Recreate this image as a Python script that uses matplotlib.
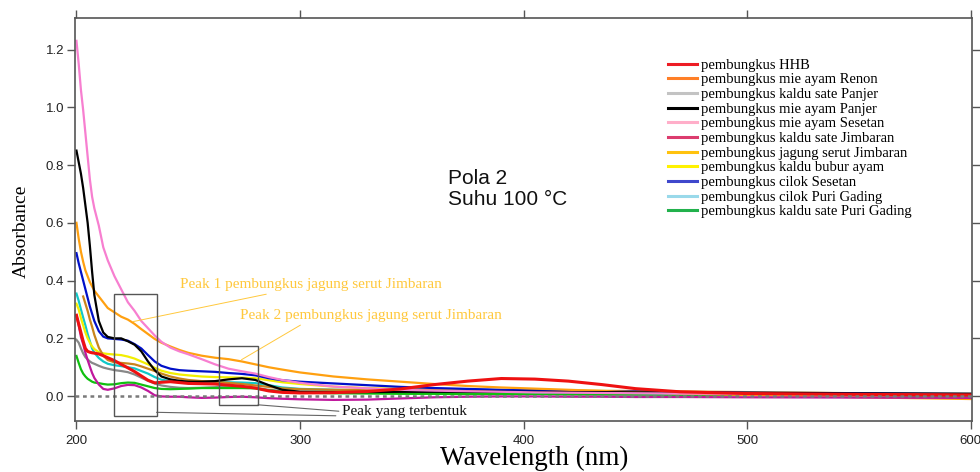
import matplotlib
matplotlib.use("Agg")
import matplotlib.pyplot as plt
import numpy as np
from matplotlib.lines import Line2D
from matplotlib.patches import Rectangle

nan = np.nan

# panjang gelombang (nm) tempat nilai absorbansi dibaca
wl = [200, 201, 202, 203, 204, 205, 206, 207, 208, 210, 212, 214, 217, 220, 223,
      226, 229, 232, 235, 238, 242, 246, 250, 256, 262, 268, 274, 280, 286, 292,
      300, 315, 330, 345, 360, 375, 390, 405, 420, 435, 450, 470, 500, 550, 600]

a_hhb = [0.28, 0.25, 0.22, 0.19, 0.165, 0.155, 0.152, 0.150, 0.149, 0.146, 0.140, 0.133, 0.123, 0.110, 0.098,
         0.085, 0.070, 0.055, 0.046, 0.048, 0.050, 0.047, 0.044, 0.043, 0.042, 0.038, 0.034, 0.028, 0.018, 0.013,
         0.011, 0.012, 0.016, 0.025, 0.040, 0.052, 0.061, 0.059, 0.052, 0.040, 0.026, 0.015, 0.009, 0.006, 0.004]
a_renon = [nan, nan, nan, 0.345, 0.32, 0.295, 0.265, 0.24, 0.212, 0.168, 0.140, 0.125, 0.117, 0.115, 0.113,
           0.110, 0.103, 0.095, 0.087, 0.078, 0.068, 0.061, 0.056, 0.052, 0.050, 0.046, 0.042, 0.037, 0.032, 0.027,
           0.024, 0.022, 0.021, 0.020, 0.020, 0.019, 0.019, 0.019, 0.018, 0.018, 0.018, 0.016, 0.014, 0.010, 0.006]
a_sate_panjer = [0.195, 0.185, 0.165, 0.148, 0.135, 0.127, 0.120, 0.115, 0.112, 0.105, 0.099, 0.095, 0.090, 0.087, 0.083,
                 0.075, 0.064, 0.053, 0.044, 0.037, 0.032, 0.029, 0.028, 0.029, 0.031, 0.033, 0.032, 0.028, 0.022, 0.018,
                 0.015, 0.013, 0.012, 0.011, 0.010, 0.009, 0.008, 0.008, 0.007, 0.006, 0.005, 0.005, 0.004, 0.002, 0.000]
a_mie_panjer = [0.85, 0.81, 0.77, 0.72, 0.66, 0.60, 0.52, 0.43, 0.35, 0.26, 0.22, 0.205, 0.200, 0.200, 0.190,
                0.178, 0.155, 0.120, 0.090, 0.068, 0.058, 0.053, 0.050, 0.050, 0.052, 0.058, 0.062, 0.056, 0.038, 0.022,
                0.015, 0.014, 0.014, 0.015, 0.015, 0.015, 0.015, 0.015, 0.014, 0.014, 0.013, 0.012, 0.011, 0.009, 0.008]
a_mie_sesetan = [1.23, 1.15, 1.06, 0.99, 0.91, 0.83, 0.75, 0.69, 0.65, 0.59, 0.515, 0.47, 0.415, 0.37, 0.325,
                 0.295, 0.26, 0.235, 0.21, 0.188, 0.168, 0.155, 0.145, 0.128, 0.110, 0.095, 0.086, 0.078, 0.066, 0.056,
                 0.046, 0.033, 0.027, 0.022, 0.019, 0.017, 0.015, 0.013, 0.012, 0.011, 0.010, 0.009, 0.008, 0.006, 0.004]
a_sate_jimbaran = [0.28, 0.245, 0.205, 0.18, 0.15, 0.125, 0.102, 0.080, 0.063, 0.040, 0.025, 0.022, 0.027, 0.035, 0.039,
                   0.038, 0.030, 0.018, 0.003, -0.001, -0.002, -0.002, -0.004, -0.006, -0.005, -0.003, -0.002, -0.004, -0.007, -0.009,
                   -0.011, -0.013, -0.012, -0.008, -0.004, -0.002, -0.001, -0.001, -0.002, -0.002, -0.003, -0.003, -0.004, -0.005, -0.006]
a_jagung = [0.60, 0.545, 0.50, 0.465, 0.435, 0.415, 0.395, 0.38, 0.365, 0.345, 0.325, 0.305, 0.29, 0.275, 0.265,
            0.25, 0.232, 0.215, 0.198, 0.185, 0.172, 0.160, 0.150, 0.140, 0.133, 0.128, 0.120, 0.110, 0.100, 0.092,
            0.082, 0.068, 0.058, 0.050, 0.042, 0.035, 0.030, 0.026, 0.022, 0.018, 0.014, 0.009, 0.004, -0.004, -0.010]
a_bubur = [0.32, 0.30, 0.27, 0.245, 0.22, 0.20, 0.185, 0.172, 0.163, 0.152, 0.148, 0.146, 0.144, 0.142, 0.137,
           0.130, 0.120, 0.110, 0.098, 0.088, 0.080, 0.075, 0.072, 0.068, 0.066, 0.065, 0.064, 0.062, 0.055, 0.048,
           0.042, 0.033, 0.028, 0.025, 0.023, 0.022, 0.021, 0.020, 0.019, 0.018, 0.017, 0.015, 0.012, 0.010, 0.008]
a_cilok_sesetan = [0.495, 0.46, 0.43, 0.40, 0.37, 0.34, 0.31, 0.285, 0.26, 0.225, 0.206, 0.200, 0.198, 0.196, 0.192,
                   0.180, 0.165, 0.142, 0.120, 0.105, 0.095, 0.090, 0.088, 0.086, 0.084, 0.080, 0.077, 0.072, 0.062, 0.055,
                   0.050, 0.044, 0.038, 0.032, 0.028, 0.025, 0.022, 0.020, 0.018, 0.017, 0.016, 0.014, 0.012, 0.010, 0.008]
a_cilok_puri = [0.355, 0.33, 0.30, 0.272, 0.245, 0.215, 0.19, 0.165, 0.150, 0.132, 0.120, 0.112, 0.107, 0.104, 0.100,
                0.096, 0.087, 0.078, 0.066, 0.057, 0.052, 0.050, 0.050, 0.050, 0.049, 0.048, 0.047, 0.045, 0.038, 0.030,
                0.025, 0.022, 0.020, 0.018, 0.017, 0.016, 0.015, 0.014, 0.013, 0.012, 0.011, 0.009, 0.008, 0.006, 0.004]
a_sate_puri = [0.139, 0.115, 0.093, 0.078, 0.068, 0.060, 0.055, 0.050, 0.047, 0.045, 0.042, 0.040, 0.041, 0.045, 0.047,
               0.046, 0.040, 0.034, 0.028, 0.025, 0.024, 0.025, 0.026, 0.028, 0.028, 0.028, 0.028, 0.027, 0.020, 0.015,
               0.012, 0.010, 0.009, 0.008, 0.008, 0.007, 0.007, 0.007, 0.006, 0.006, 0.006, 0.005, 0.005, 0.003, 0.002]

nama = ["pembungkus HHB", "pembungkus mie ayam Renon", "pembungkus kaldu sate Panjer",
        "pembungkus mie ayam Panjer", "pembungkus mie ayam Sesetan", "pembungkus kaldu sate Jimbaran",
        "pembungkus jagung serut Jimbaran", "pembungkus kaldu bubur ayam", "pembungkus cilok Sesetan",
        "pembungkus cilok Puri Gading", "pembungkus kaldu sate Puri Gading"]
data = [a_hhb, a_renon, a_sate_panjer, a_mie_panjer, a_mie_sesetan, a_sate_jimbaran,
        a_jagung, a_bubur, a_cilok_sesetan, a_cilok_puri, a_sate_puri]
# warna garis di grafik dan warna di legenda (legenda aslinya ditempel terpisah)
warna = ["#ee1111", "#c8841c", "#888888", "#000000", "#f77fd0", "#c0189c",
         "#ffa010", "#f2ee00", "#0010c8", "#10c8c8", "#10c010"]
warna_legenda = ["#ed1c24", "#ff7f27", "#c3c3c3", "#000000", "#ffaec9", "#dc3c6e",
                 "#ffc20e", "#fff200", "#3f48cc", "#99d9ea", "#22b14c"]
urutan_gambar = [2, 10, 9, 7, 1, 8, 6, 3, 4, 5, 0]

fig = plt.figure(figsize=(9.8, 4.72), dpi=100)
ax = fig.add_axes([0.0762, 0.1087, 0.9156, 0.8525])

for i in urutan_gambar:
    lw = 2.2 if i == 0 else 1.6
    ax.plot(wl, data[i], color=warna[i], lw=lw, zorder=2 + urutan_gambar.index(i) * 0.01)

ax.axhline(0, color="#7a7a7a", lw=1.8, ls=(0, (1.5, 1.5)), zorder=3)

ax.set_xlim(199.2, 600.5)
ax.set_ylim(-0.085, 1.308)
ax.set_xticks([200, 300, 400, 500, 600])
ax.set_yticks([0.0, 0.2, 0.4, 0.6, 0.8, 1.0, 1.2])
ax.set_yticklabels(["0.0", "0.2", "0.4", "0.6", "0.8", "1.0", "1.2"])
ax.tick_params(axis="both", direction="out", length=6, width=1, color="#555555",
               labelsize=9.5, labelcolor="#222222", top=True, right=True)
ax.tick_params(axis="x", pad=4)
ax.tick_params(axis="y", pad=1.5)
for t in ax.get_xticklabels() + ax.get_yticklabels():
    t.set_fontfamily("Liberation Sans")
for s in ax.spines.values():
    s.set_color("#555555")
    s.set_linewidth(1.2)

ax.set_xlabel("Wavelength (nm)", fontfamily="Liberation Serif", fontsize=19.5)
ax.xaxis.set_label_coords(0.512, -0.062)
ax.set_ylabel("Absorbance", fontfamily="Liberation Serif", fontsize=14)
ax.yaxis.set_label_coords(-0.05, 0.47)

# kotak penanda puncak
kotak_kiri = Rectangle((217, -0.068), 18.8, 0.422, fill=False, ec="#555555", lw=1, zorder=4)
kotak_kanan = Rectangle((263.8, -0.030), 17.4, 0.202, fill=False, ec="#555555", lw=1, zorder=4)
ax.add_patch(kotak_kiri)
ax.add_patch(kotak_kanan)

emas = "#ffc83c"
ax.annotate("Peak 1 pembungkus jagung serut Jimbaran", xy=(225.3, 0.258), xytext=(246.5, 0.385),
            color=emas, fontfamily="Liberation Serif", fontsize=11, va="center",
            arrowprops=dict(arrowstyle="-", color=emas, lw=0.7, shrinkA=0, shrinkB=0))
ax.annotate("Peak 2 pembungkus jagung serut Jimbaran", xy=(273.8, 0.126), xytext=(273, 0.278),
            color=emas, fontfamily="Liberation Serif", fontsize=11, va="center",
            arrowprops=dict(arrowstyle="-", color=emas, lw=0.7, shrinkA=0, shrinkB=0,
                            relpos=(0.25, 0)))
ax.annotate("Peak yang terbentuk", xy=(281.2, -0.03), xytext=(318.6, -0.053),
            color="#111111", fontfamily="Liberation Serif", fontsize=11, va="center",
            arrowprops=dict(arrowstyle="-", color="#666666", lw=0.8, shrinkA=0, shrinkB=0,
                            relpos=(0, 0.5)))
ax.annotate("", xy=(235.8, -0.056), xytext=(316, -0.068),
            arrowprops=dict(arrowstyle="-", color="#666666", lw=0.8, shrinkA=0, shrinkB=0))

ax.text(366.2, 0.785, "Pola 2\nSuhu 100 °C", fontfamily="Liberation Sans", fontsize=15,
        va="top", ha="left", linespacing=1.1, color="#111111")

handles = [Line2D([], [], color=c, lw=2.2) for c in warna_legenda]
leg = ax.legend(handles, nama, loc="upper left", bbox_to_anchor=(0.661, 0.9),
                frameon=False, borderpad=0, borderaxespad=0, handlelength=2.0,
                handletextpad=0.3, labelspacing=0.1,
                prop={"family": "Liberation Serif", "size": 10.5})

fig.savefig("out.png", dpi=100)
